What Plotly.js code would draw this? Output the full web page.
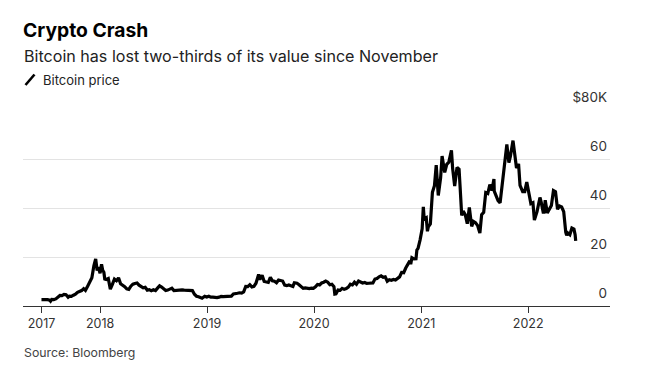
<!DOCTYPE html>
<html>
<head>
<meta charset="utf-8">
<script src="https://cdn.plot.ly/plotly-3.0.1.min.js"></script>
<style>
html,body{margin:0;padding:0;background:#fff;}
#chart{width:647px;height:376px;}
</style>
</head>
<body>
<div id="chart"></div>
<script>
// Bitcoin price, thousands of USD
const dates = [
"2017-06-15","2017-06-22","2017-06-29","2017-07-06","2017-07-13","2017-07-16","2017-07-20","2017-07-27","2017-08-03","2017-08-10","2017-08-17","2017-08-24","2017-08-31","2017-09-07","2017-09-14","2017-09-18","2017-09-25","2017-10-02","2017-10-09","2017-10-16","2017-10-23","2017-10-30","2017-11-06","2017-11-12","2017-11-20","2017-11-27","2017-12-04","2017-12-11","2017-12-17","2017-12-22","2017-12-26","2018-01-01","2018-01-06","2018-01-10","2018-01-14","2018-01-17","2018-01-22","2018-01-29","2018-02-05","2018-02-12","2018-02-19","2018-02-26","2018-03-05","2018-03-12","2018-03-19","2018-03-26","2018-04-02","2018-04-09","2018-04-16","2018-04-23","2018-04-30","2018-05-07","2018-05-14","2018-05-21","2018-05-28","2018-06-04","2018-06-11","2018-06-18","2018-06-25","2018-07-02","2018-07-09","2018-07-16","2018-07-23","2018-07-30","2018-08-06","2018-08-13","2018-08-20","2018-08-27","2018-09-03","2018-09-10","2018-09-17","2018-09-24","2018-10-01","2018-10-08","2018-10-15","2018-10-22","2018-10-29","2018-11-05","2018-11-12","2018-11-19","2018-11-26","2018-12-03","2018-12-10","2018-12-15","2018-12-24","2018-12-31","2019-01-07","2019-01-14","2019-01-21","2019-01-28","2019-02-04","2019-02-11","2019-02-18","2019-02-25","2019-03-04","2019-03-11","2019-03-18","2019-03-25","2019-04-01","2019-04-08","2019-04-15","2019-04-22","2019-04-29","2019-05-06","2019-05-13","2019-05-20","2019-05-27","2019-06-03","2019-06-10","2019-06-17","2019-06-26","2019-06-30","2019-07-08","2019-07-15","2019-07-22","2019-07-29","2019-08-05","2019-08-12","2019-08-19","2019-08-26","2019-09-02","2019-09-09","2019-09-16","2019-09-23","2019-09-30","2019-10-07","2019-10-14","2019-10-21","2019-10-26","2019-11-04","2019-11-11","2019-11-18","2019-11-25","2019-12-02","2019-12-09","2019-12-16","2019-12-23","2019-12-30","2020-01-06","2020-01-13","2020-01-20","2020-01-27","2020-02-03","2020-02-10","2020-02-17","2020-02-24","2020-03-02","2020-03-09","2020-03-12","2020-03-16","2020-03-23","2020-03-30","2020-04-06","2020-04-13","2020-04-20","2020-04-27","2020-05-04","2020-05-11","2020-05-18","2020-05-25","2020-06-01","2020-06-08","2020-06-15","2020-06-22","2020-06-29","2020-07-06","2020-07-13","2020-07-20","2020-07-27","2020-08-03","2020-08-10","2020-08-17","2020-08-24","2020-08-31","2020-09-07","2020-09-14","2020-09-21","2020-09-28","2020-10-05","2020-10-12","2020-10-19","2020-10-26","2020-11-02","2020-11-09","2020-11-16","2020-11-23","2020-11-26","2020-11-30","2020-12-07","2020-12-14","2020-12-17","2020-12-21","2020-12-28","2021-01-04","2021-01-08","2021-01-11","2021-01-18","2021-01-22","2021-01-25","2021-02-01","2021-02-08","2021-02-15","2021-02-21","2021-02-28","2021-03-08","2021-03-13","2021-03-22","2021-03-29","2021-04-05","2021-04-14","2021-04-18","2021-04-25","2021-05-03","2021-05-10","2021-05-13","2021-05-19","2021-05-24","2021-05-31","2021-06-07","2021-06-14","2021-06-22","2021-06-28","2021-07-05","2021-07-12","2021-07-20","2021-07-26","2021-08-02","2021-08-09","2021-08-16","2021-08-23","2021-08-30","2021-09-06","2021-09-07","2021-09-13","2021-09-20","2021-09-27","2021-10-04","2021-10-11","2021-10-20","2021-10-27","2021-11-01","2021-11-10","2021-11-15","2021-11-22","2021-11-29","2021-12-04","2021-12-13","2021-12-20","2021-12-27","2022-01-03","2022-01-10","2022-01-17","2022-01-22","2022-01-31","2022-02-07","2022-02-10","2022-02-14","2022-02-21","2022-02-24","2022-02-28","2022-03-07","2022-03-14","2022-03-21","2022-03-28","2022-04-04","2022-04-11","2022-04-18","2022-04-25","2022-05-02","2022-05-09","2022-05-12","2022-05-16","2022-05-23","2022-05-30","2022-06-06","2022-06-10","2022-06-12"
];
const priceK = [
2.6,2.7,2.5,2.6,2.4,2.0,2.7,2.6,2.9,3.5,4.3,4.2,4.7,4.6,3.6,4.0,3.9,4.4,4.8,5.6,5.9,6.3,7.1,6.4,8.2,9.7,11.5,16.5,19.2,14.5,15.8,13.4,17.0,14.6,13.8,11.0,10.8,11.2,6.9,8.8,11.0,10.3,11.5,9.1,8.6,7.9,7.0,6.8,8.1,8.9,9.2,9.4,8.5,8.0,7.4,7.6,6.5,6.7,6.2,6.6,6.3,7.3,8.2,7.7,6.9,6.3,6.5,7.0,7.3,6.3,6.4,6.6,6.6,6.6,6.5,6.5,6.3,6.4,6.3,4.8,4.0,3.8,3.4,3.2,4.0,3.7,4.0,3.6,3.6,3.4,3.4,3.6,3.9,3.8,3.8,3.9,4.0,4.0,4.9,5.2,5.2,5.4,5.3,5.8,8.0,7.9,8.7,7.8,8.0,9.3,12.9,10.8,12.5,10.0,9.8,9.6,11.7,10.3,10.1,9.5,10.6,10.3,10.2,8.5,8.3,8.6,8.3,8.0,9.5,9.3,8.7,8.1,7.2,7.4,7.2,7.1,7.3,7.2,7.8,8.8,8.6,9.4,9.7,10.2,9.7,8.7,8.9,7.9,4.9,5.0,6.5,6.4,7.2,6.8,7.1,7.7,8.9,8.6,9.7,8.9,10.2,9.7,9.4,9.6,9.2,9.3,9.2,9.4,11.0,11.2,11.9,12.3,11.7,11.9,10.1,10.7,10.5,10.8,10.6,11.4,11.9,13.7,13.6,15.5,16.7,18.4,17.1,19.7,19.2,19.3,22.8,23.5,27.0,31.5,40.5,35.5,36.0,30.5,32.3,33.5,46.4,49.1,57.5,45.1,52.3,61.2,54.5,57.8,58.7,63.5,56.2,49.0,56.6,55.8,49.7,37.0,38.7,37.3,33.6,40.2,32.5,34.5,34.0,32.9,29.8,37.3,38.2,46.3,45.9,49.6,47.1,51.8,46.9,44.9,43.0,42.1,49.2,57.4,65.9,58.5,61.0,67.5,63.5,56.3,58.0,49.2,46.7,46.7,50.6,46.4,41.8,42.2,35.1,38.5,43.9,44.3,42.5,38.3,38.3,43.2,38.0,39.7,41.0,47.1,46.6,39.5,40.8,40.4,38.5,30.1,28.9,29.8,29.1,31.8,31.4,29.1,26.6
];
const xTickVals = ["2017-06-15","2018-01-01","2019-01-01","2020-01-01","2021-01-01","2022-01-01"];
const xTickText = ["2017","2018","2019","2020","2021","2022"];
const yTickVals = [0,20,40,60,80];
const yTickText = ["0","20","40","60","$80K"];

const FONT = "Inter, Liberation Sans, Arial, sans-serif";

const trace = {
  x: dates, y: priceK, type: "scatter", mode: "lines",
  line: {color: "#000", width: 3.2}, hoverinfo: "skip", showlegend: false
};

const L = 23, R = 610, T = 110, B = 306;
const pw = R - L, ph = B - T;
const px = p => (p - L) / pw;
const py = p => (B - p) / ph;

const layout = {
  width: 647, height: 376,
  margin: {l: L, r: 647 - R, t: T, b: 376 - B, pad: 0},
  paper_bgcolor: "#fff", plot_bgcolor: "#fff",
  font: {family: FONT, color: "#333", size: 13},
  title: {
    text: "<b>Crypto Crash</b>",
    font: {family: FONT, size: 19.3, color: "#000"},
    x: 23 / 647, xanchor: "left", xref: "container",
    y: 1 - 30.5 / 376, yanchor: "middle", yref: "container"
  },
  xaxis: {
    type: "date",
    range: ["2017-04-13", "2022-10-07"],
    tickmode: "array", tickvals: xTickVals, ticktext: xTickText,
    showgrid: false, zeroline: false,
    showline: true, linecolor: "#333", linewidth: 1,
    ticks: "outside", ticklen: 6, tickcolor: "#333", tickwidth: 1,
    tickfont: {family: FONT, size: 12.5, color: "#333"},
    fixedrange: true
  },
  yaxis: {
    range: [0, 80], side: "right",
    tickmode: "array", tickvals: yTickVals, ticktext: yTickText,
    ticklabelposition: "inside top", ticklabeloverflow: "allow",
    ticklabelshift: -3,
    showgrid: true, gridcolor: "#e3e3e3", gridwidth: 1,
    zeroline: false, showline: false, ticks: "",
    tickfont: {family: FONT, size: 13.5, color: "#333"},
    fixedrange: true
  },
  shapes: [{
    type: "line", xref: "paper", yref: "paper",
    x0: px(25.5), y0: py(85), x1: px(34.5), y1: py(74.5),
    line: {color: "#000", width: 2.6}
  }],
  annotations: [
    {text: "Bitcoin has lost two-thirds of its value since November",
     xref: "paper", yref: "paper", x: px(22), y: py(56), xanchor: "left", yanchor: "middle",
     showarrow: false, font: {family: FONT, size: 16.1, color: "#222"}},
    {text: "Bitcoin price",
     xref: "paper", yref: "paper", x: px(41), y: py(80), xanchor: "left", yanchor: "middle",
     showarrow: false, font: {family: FONT, size: 13, color: "#222"}},
    {text: "Source: Bloomberg",
     xref: "paper", yref: "paper", x: px(22), y: py(352), xanchor: "left", yanchor: "middle",
     showarrow: false, font: {family: FONT, size: 12.3, color: "#444"}}
  ]
};

Plotly.newPlot("chart", [trace], layout, {staticPlot: true, displayModeBar: false});
</script>
</body>
</html>
